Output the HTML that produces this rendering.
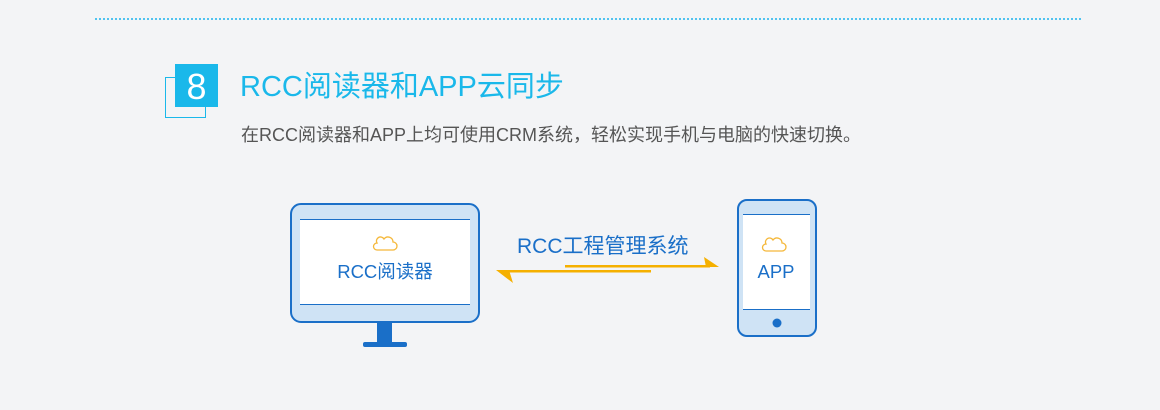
<!DOCTYPE html>
<html><head><meta charset="utf-8"><style>
body{margin:0;width:1160px;height:410px;background:#f3f4f6;position:relative;overflow:hidden;font-family:"Liberation Sans","Noto Sans CJK SC",sans-serif}
.a{position:absolute;white-space:nowrap}
</style></head><body>
<div class="a" style="left:95px;top:18px;width:986px;border-top:2px dotted #4fc3f0"></div>
<div class="a" style="left:165px;top:77px;width:39px;height:39px;border:1px solid #1ab8ea"></div>
<div class="a" style="left:175px;top:64px;width:43px;height:43px;background:#1ab8ea;color:#fff;font-size:36px;line-height:45px;text-align:center">8</div>
<div class="a" style="left:240px;top:68px;font-size:29px;line-height:38px;color:#1ab8ea">RCC阅读器和APP云同步</div>
<div class="a" style="left:241px;top:123px;font-size:18px;line-height:24px;color:#555">在RCC阅读器和APP上均可使用CRM系统，轻松实现手机与电脑的快速切换。</div>
<svg class="a" style="left:0;top:0" width="1160" height="410">
<rect x="291" y="204" width="188" height="118" rx="10" fill="#cfe3f5" stroke="#1a6fc8" stroke-width="2"/>
<rect x="300" y="219" width="170" height="85" fill="#fff"/>
<line x1="300" y1="219.5" x2="470" y2="219.5" stroke="#1a6fc8"/>
<line x1="300" y1="304.5" x2="470" y2="304.5" stroke="#1a6fc8"/>
<rect x="377" y="323" width="15" height="20" fill="#1a6fc8"/>
<rect x="363" y="342" width="44" height="5" rx="2" fill="#1a6fc8"/>
<rect x="738" y="200" width="78" height="136" rx="9" fill="#cfe3f5" stroke="#1a6fc8" stroke-width="2"/>
<rect x="743" y="214" width="67" height="96" fill="#fff"/>
<line x1="743" y1="214.5" x2="810" y2="214.5" stroke="#1a6fc8"/>
<line x1="743" y1="309.5" x2="810" y2="309.5" stroke="#1a6fc8"/>
<circle cx="777" cy="323" r="4.5" fill="#1a6fc8"/>
<g fill="none" stroke="#f5b83a" stroke-width="1.3">
<path d="M377 250 h16 a4 4 0 0 0 0-8 a5 5 0 0 0-9-3 a4 4 0 0 0-7 4 a3.5 3.5 0 0 0 0 7z"/>
<path d="M766 251 h16 a4 4 0 0 0 0-8 a5 5 0 0 0-9-3 a4 4 0 0 0-7 4 a3.5 3.5 0 0 0 0 7z"/>
</g>
<text x="385" y="278" font-size="18.5" fill="#1a6fc8" text-anchor="middle" font-family="Liberation Sans,Noto Sans CJK SC,sans-serif">RCC阅读器</text>
<text x="776" y="278" font-size="18.5" fill="#1a6fc8" text-anchor="middle" font-family="Liberation Sans,Noto Sans CJK SC,sans-serif">APP</text>
<text x="517" y="253" font-size="21" fill="#1a6fc8" font-family="Liberation Sans,Noto Sans CJK SC,sans-serif">RCC工程管理系统</text>
<rect x="565" y="265" width="145" height="2.5" fill="#f5b000"/>
<polygon points="704,257 719,267 706,267" fill="#f5b000"/>
<rect x="505" y="270" width="146" height="2.5" fill="#f5b000"/>
<polygon points="496,270 513,283 509,270" fill="#f5b000"/>
</svg>
</body></html>
